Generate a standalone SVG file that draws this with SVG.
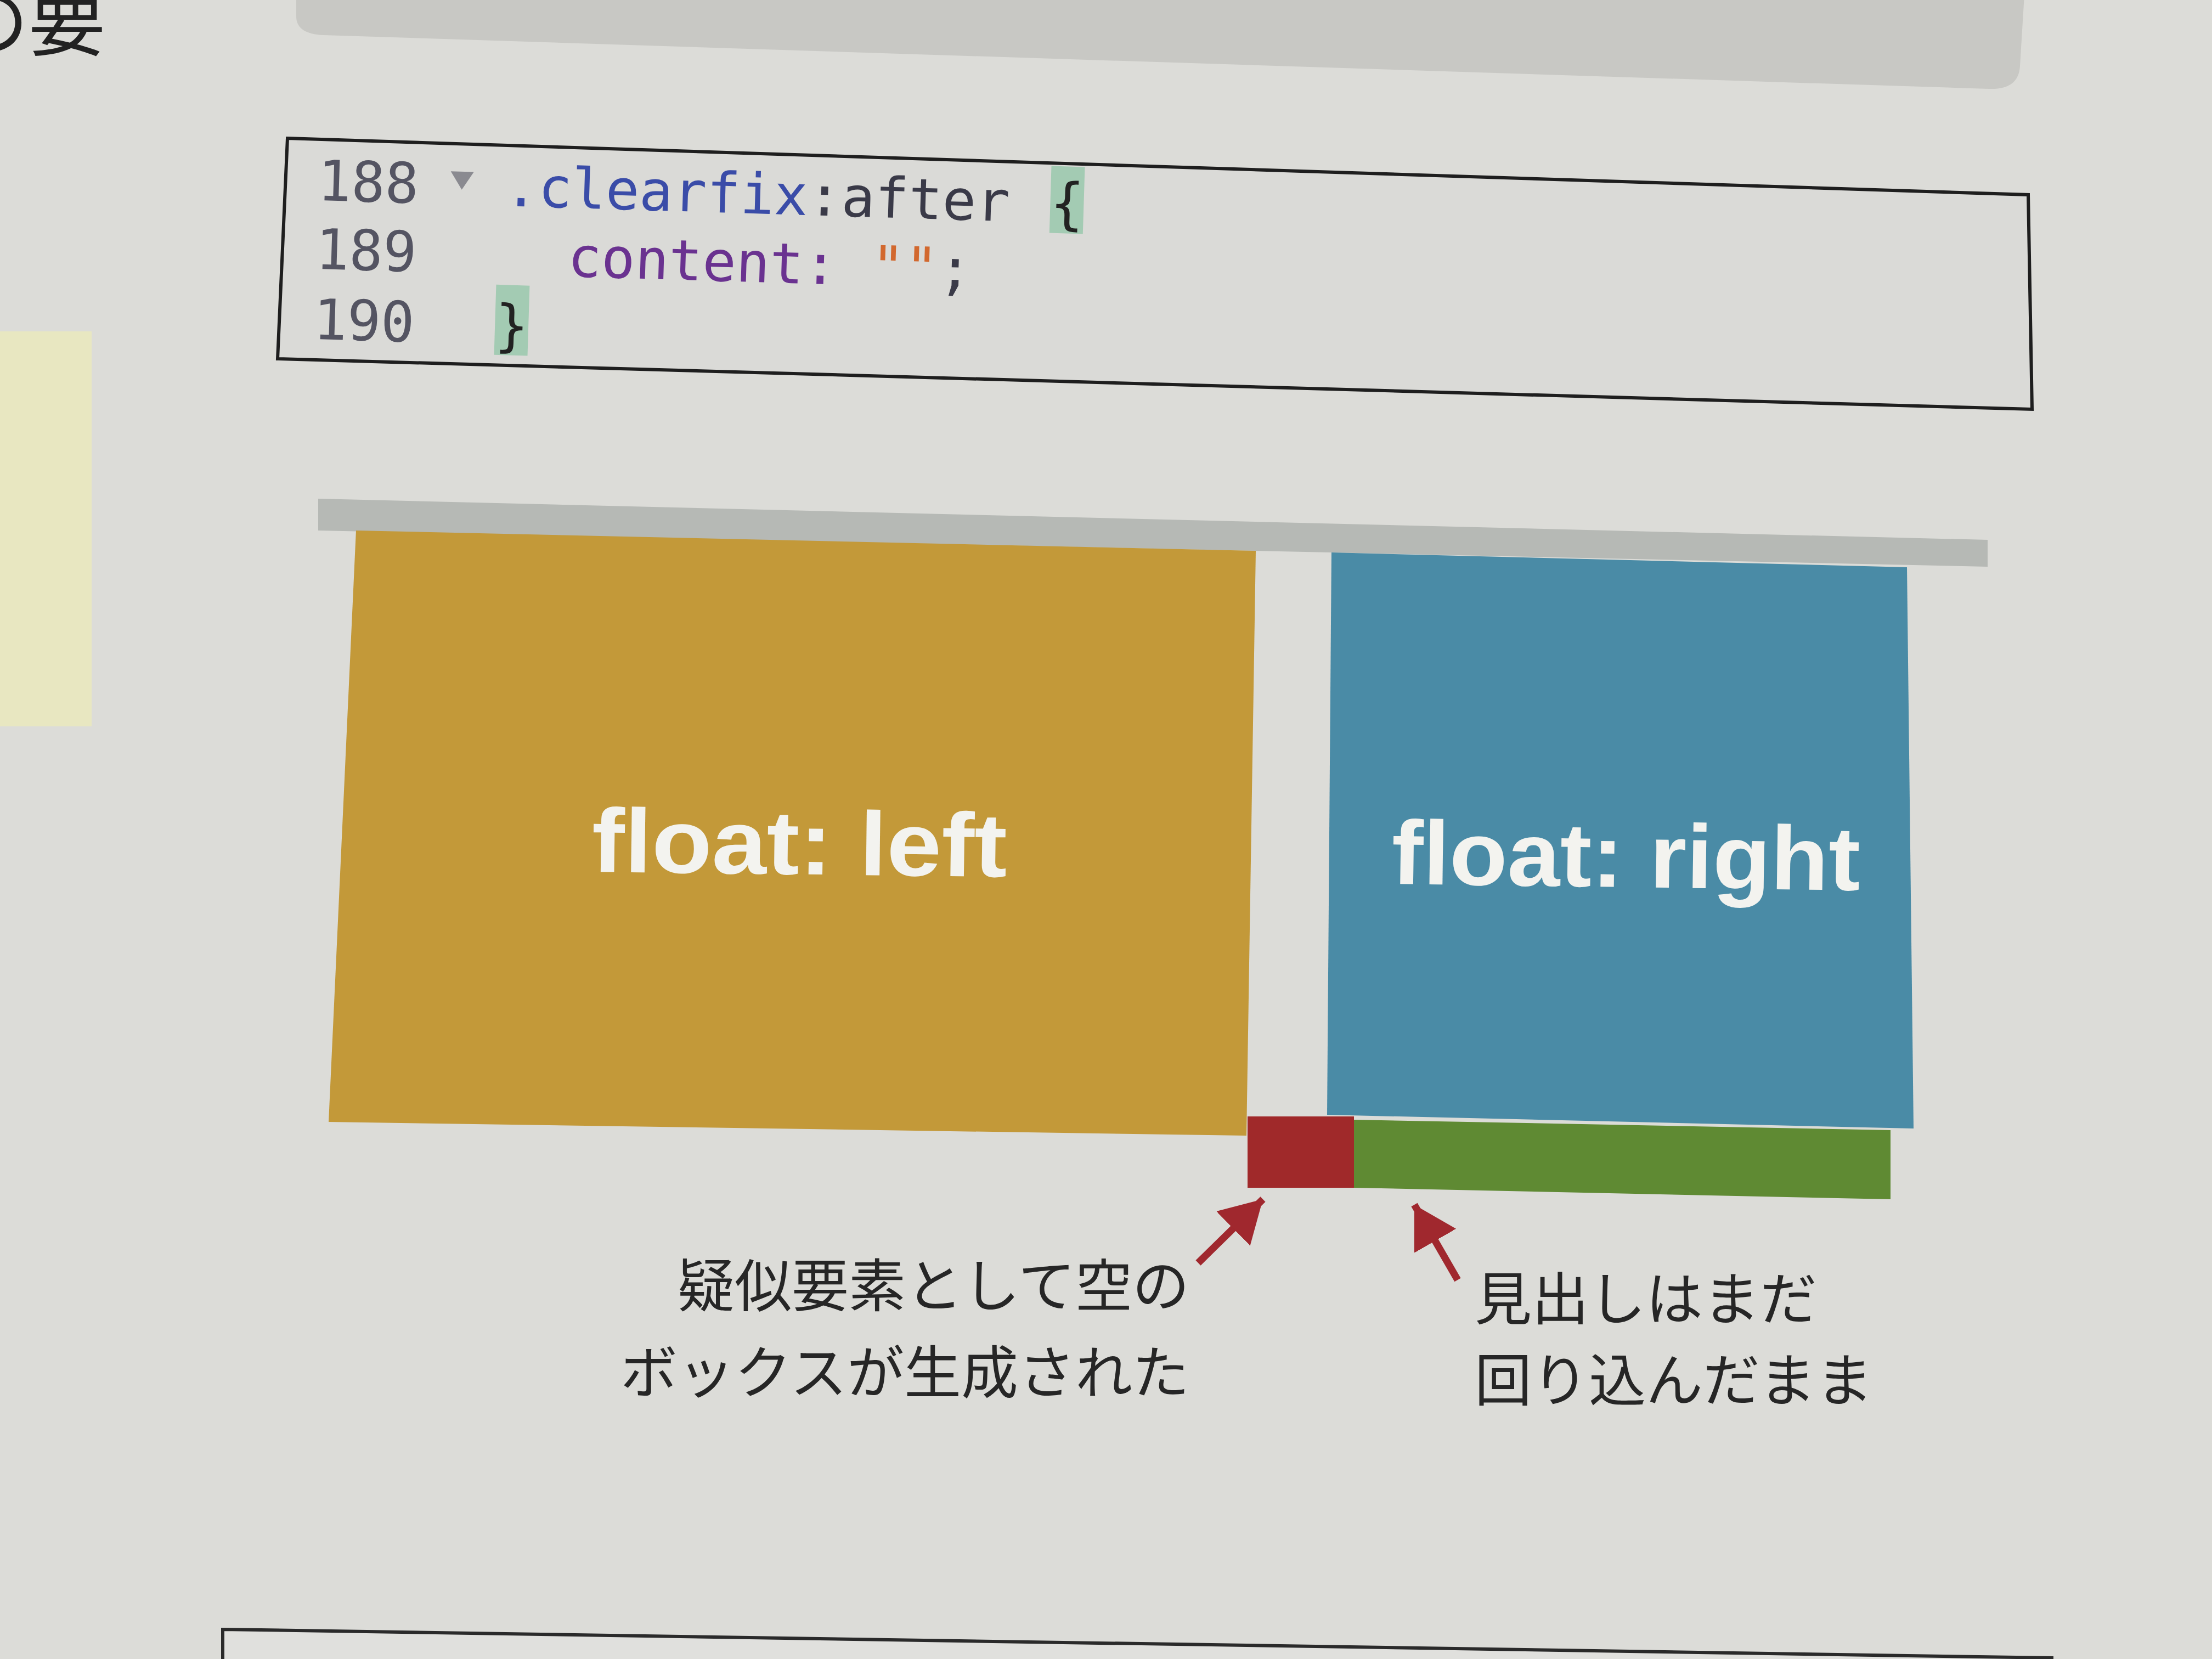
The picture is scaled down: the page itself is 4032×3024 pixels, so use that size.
<svg xmlns="http://www.w3.org/2000/svg" width="4032" height="3024" viewBox="0 0 4032 3024">
<defs>
<style>
.code{font-family:"DejaVu Sans Mono","Liberation Mono",monospace;font-size:102px}
.ln{fill:#545462}
.sel{fill:#3a4ca8}
.pun{fill:#3a3a48}
.kw{fill:#6a3290}
.str{fill:#d2682e}
.brace{fill:#222}
.hl{fill:#a3cbb3}
.big{font-family:"Liberation Sans","Noto Sans",sans-serif;font-weight:bold;font-size:165px;fill:#f3f3ef}
.jp{font-family:"Noto Sans CJK JP","Noto Sans CJK SC",sans-serif;font-size:104px;fill:#262626}
.arrow{stroke:#a0282e;stroke-width:13;fill:none}
</style>
<marker id="head" markerUnits="userSpaceOnUse" viewBox="0 0 76 88" markerWidth="76" markerHeight="88" refX="76" refY="44" orient="auto">
<path d="M0,0 L76,44 L0,88 Z" fill="#a0282e"/>
</marker>
</defs>
<rect x="0" y="0" width="4032" height="3024" fill="#dcdcd8"/>
<path d="M540,-10 L540,30 Q540,62 590,64 L3625,162 Q3680,164 3682,120 L3690,-10 Z" fill="#c8c8c4"/>
<text x="-88" y="90" font-family="Noto Sans CJK JP, sans-serif" font-size="140" fill="#222">の要</text>
<rect x="0" y="604" width="167" height="720" fill="#e8e7c1"/>
<g id="code-block">
<polygon points="524,252 3697,355 3704,746 506,654" fill="#dadad7" stroke="#1e1e1e" stroke-width="6"/>
<g transform="rotate(1.75 586 365)">
<rect class="hl" x="1914" y="262" width="61" height="122"/>
<rect class="hl" x="909" y="509" width="61" height="128"/>
<text class="code ln" x="578" y="365">188</text>
<text class="code ln" x="578" y="490">189</text>
<text class="code ln" x="578" y="618">190</text>
<polygon points="820,305 862,305 841,338" fill="#8a8a90"/>
<text class="code" x="919" y="365"><tspan class="sel">.clearfix</tspan><tspan class="pun">:after</tspan></text>
<text class="code brace" x="1914" y="365">{</text>
<text class="code" x="1038" y="490"><tspan class="kw">content:</tspan><tspan class="kw"> </tspan><tspan class="str">""</tspan><tspan class="pun">;</tspan></text>
<text class="code brace" x="909" y="618">}</text>
</g>
</g>
<g id="container-top">
<polygon points="580,909 3623,984 3623,1033 580,967" fill="#b6b9b5"/>
</g>
<g id="float-left">
<polygon points="649,967 2289,1004 2272,2070 599,2045" fill="#c39939"/>
<text class="big" x="1078" y="1589" textLength="757" lengthAdjust="spacingAndGlyphs" transform="rotate(0.7 1078 1589)">float: left</text>
</g>
<g id="float-right">
<polygon points="2427,1007 3476,1034 3488,2057 2419,2032" fill="#4a8ba6"/>
<text class="big" x="2536" y="1611" textLength="854" lengthAdjust="spacingAndGlyphs" transform="rotate(0.8 2536 1611)">float: right</text>
</g>
<g id="pseudo-box">
<rect x="2274" y="2035" width="194" height="130" fill="#a0292a"/>
</g>
<g id="heading">
<polygon points="2468,2041 3446,2060 3446,2186 2468,2165" fill="#5f8a33"/>
</g>
<g id="connectors">
<line class="arrow" x1="2184" y1="2302" x2="2302" y2="2186" marker-end="url(#head)"/>
<line class="arrow" x1="2657" y1="2333" x2="2578" y2="2196" marker-end="url(#head)"/>
</g>
<g id="label-pseudo">
<text class="jp" x="2168" y="2382" text-anchor="end">疑似要素として空の</text>
<text class="jp" x="2168" y="2540" text-anchor="end">ボックスが生成された</text>
</g>
<g id="label-heading">
<text class="jp" x="2688" y="2406" font-size="102">見出しはまだ</text>
<text class="jp" x="2688" y="2554" font-size="102">回り込んだまま</text>
</g>
<polygon points="406,2970 3740,3022 3740,3030 406,3030" fill="#e0e0dd" stroke="#2a2a2a" stroke-width="6"/>
</svg>
